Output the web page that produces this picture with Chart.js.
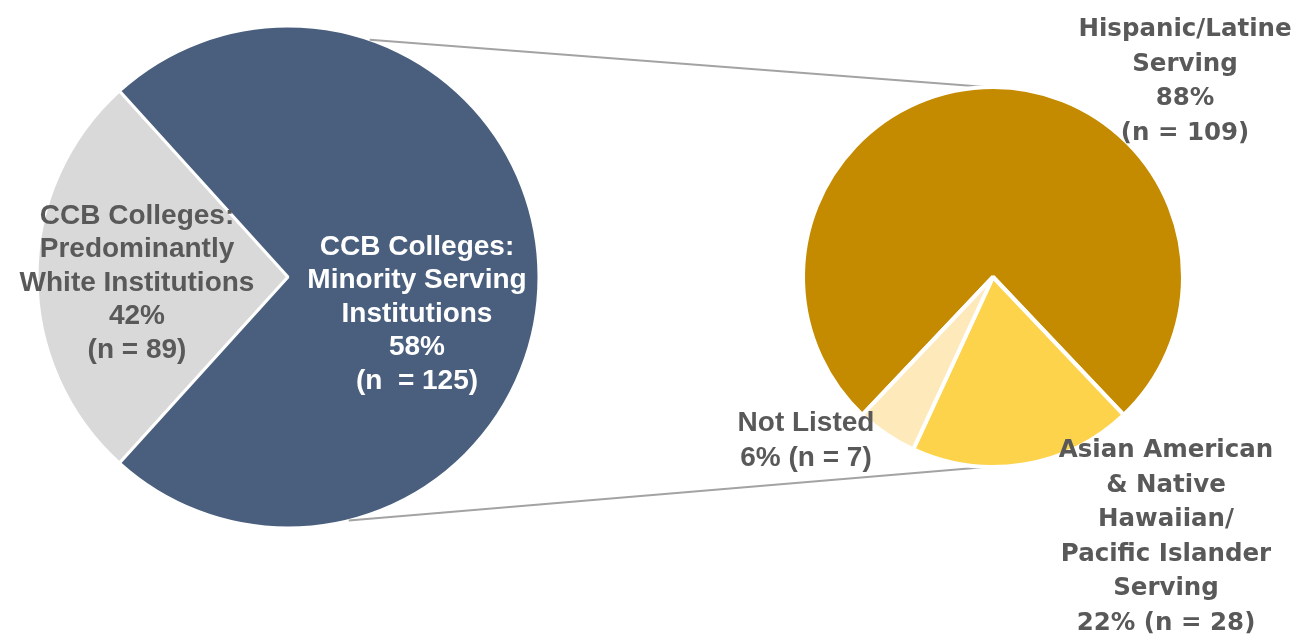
<!DOCTYPE html>
<html>
<head>
<meta charset="utf-8">
<title>CCB Colleges: MSI breakdown</title>
<script src="https://cdn.jsdelivr.net/npm/chart.js@4.4.1/dist/chart.umd.min.js"></script>
<style>
    html, body { margin: 0; padding: 0; background: #ffffff; }
    #stage { position: relative; width: 1299px; height: 639px; overflow: hidden; }
    #stage canvas { position: absolute; left: 0; top: 0; }
</style>
</head>
<body>
<div id="stage">
    <canvas id="mainPie" width="1299" height="639"></canvas>
    <canvas id="breakoutPie" width="1299" height="639"></canvas>
</div>
<script>
// ---- data ----
const mainLabels = ["Predominantly White Institutions", "Minority Serving Institutions"];
const mainPercents = [42, 58];
const mainCounts = [89, 125];

const subLabels = ["Hispanic/Latine Serving", "Asian American & Native Hawaiian/Pacific Islander Serving", "Not Listed"];
const subPercents = [88, 22, 6];
const subCounts = [109, 28, 7];

// ---- styling ----
const mainColors = ["#d9d9d9", "#4a5f7e"];
const subColors = ["#c58b00", "#fdd34c", "#fde9b9"];
const labelGrey = "#595959";
const linkColor = "#a3a3a3";

// pie-of-pie: the MSI slice on the left is the sum of the breakout values
const subTotal = subPercents.reduce((a, b) => a + b, 0);
const mainValues = [mainPercents[0], subTotal];
const mainTotal = mainValues[0] + mainValues[1];

// PWI wedge centred on the left, Hispanic/Latine wedge centred on top
const mainRotation = 270 - (mainValues[0] / mainTotal) * 180;
const subRotation = -(subPercents[0] / subTotal) * 180;

// label blocks (centre x, first line y, line step)
const leftFont = "bold 28px 'Liberation Sans', Arial, sans-serif";
const rightFont = "bold 24.5px 'DejaVu Sans', Verdana, sans-serif";

const labelBlocks = [
    {
        x: 137, y: 216, step: 33.5, font: leftFont, color: labelGrey,
        lines: ["CCB Colleges:", "Predominantly", "White Institutions", mainPercents[0] + "%", "(n = " + mainCounts[0] + ")"]
    },
    {
        x: 417, y: 247, step: 33.5, font: leftFont, color: "#ffffff",
        lines: ["CCB Colleges:", "Minority Serving", "Institutions", mainPercents[1] + "%", "(n  = " + mainCounts[1] + ")"]
    },
    {
        x: 1185, y: 30, step: 34.5, font: rightFont, color: labelGrey,
        lines: ["Hispanic/Latine", "Serving", subPercents[0] + "%", "(n = " + subCounts[0] + ")"]
    },
    {
        x: 1166, y: 451, step: 34.5, font: rightFont, color: labelGrey,
        lines: ["Asian American", "& Native", "Hawaiian/", "Pacific Islander", "Serving", subPercents[1] + "% (n = " + subCounts[1] + ")"]
    },
    {
        x: 806, y: 423, step: 35, font: leftFont, color: labelGrey,
        lines: ["Not Listed", subPercents[2] + "% (n = " + subCounts[2] + ")"]
    }
];

// where the series lines leave the left pie (degrees clockwise from top)
const linkStartTop = 19;
const linkStartBottom = 166;

function arcGeometry(chart) {
    const arc = chart.getDatasetMeta(0).data[0];
    return { x: arc.x, y: arc.y, r: arc.outerRadius };
}

function pointOn(geo, deg) {
    const a = (deg - 90) * Math.PI / 180;
    return { x: geo.x + geo.r * Math.cos(a), y: geo.y + geo.r * Math.sin(a) };
}

const baseOptions = {
    responsive: false,
    animation: false,
    devicePixelRatio: 1,
    events: [],
    plugins: {
        legend: { display: false },
        tooltip: { enabled: false }
    }
};

const mainChart = new Chart(document.getElementById("mainPie"), {
    type: "pie",
    data: {
        labels: mainLabels,
        datasets: [{
            data: mainValues,
            backgroundColor: mainColors,
            borderColor: "#ffffff",
            borderWidth: 3
        }]
    },
    options: Object.assign({}, baseOptions, {
        rotation: mainRotation,
        layout: { padding: { left: 35.5, right: 758.5, top: 24.5, bottom: 109.5 } }
    })
});

// series lines + all text labels, drawn from the breakout chart's canvas
const overlayPlugin = {
    id: "pieOfPieOverlay",
    beforeDatasetsDraw(chart) {
        const ctx = chart.ctx;
        const left = arcGeometry(mainChart);
        const right = arcGeometry(chart);
        const links = [
            [pointOn(left, linkStartTop), pointOn(right, 358)],
            [pointOn(left, linkStartBottom), pointOn(right, 182)]
        ];
        ctx.save();
        ctx.strokeStyle = linkColor;
        ctx.lineWidth = 2;
        links.forEach(([a, b]) => {
            ctx.beginPath();
            ctx.moveTo(a.x, a.y);
            ctx.lineTo(b.x, b.y);
            ctx.stroke();
        });
        ctx.restore();
    },
    afterDatasetsDraw(chart) {
        const ctx = chart.ctx;
        ctx.save();
        ctx.textAlign = "center";
        ctx.textBaseline = "middle";
        labelBlocks.forEach((block) => {
            ctx.font = block.font;
            ctx.fillStyle = block.color;
            block.lines.forEach((line, i) => {
                ctx.fillText(line, block.x, block.y + i * block.step);
            });
        });
        ctx.restore();
    }
};

const breakoutChart = new Chart(document.getElementById("breakoutPie"), {
    type: "pie",
    data: {
        labels: subLabels,
        datasets: [{
            data: subPercents,
            backgroundColor: subColors,
            borderColor: "#ffffff",
            borderWidth: 4
        }]
    },
    options: Object.assign({}, baseOptions, {
        rotation: subRotation,
        layout: { padding: { left: 801, right: 114, top: 85, bottom: 170 } }
    }),
    plugins: [overlayPlugin]
});
</script>
</body>
</html>
